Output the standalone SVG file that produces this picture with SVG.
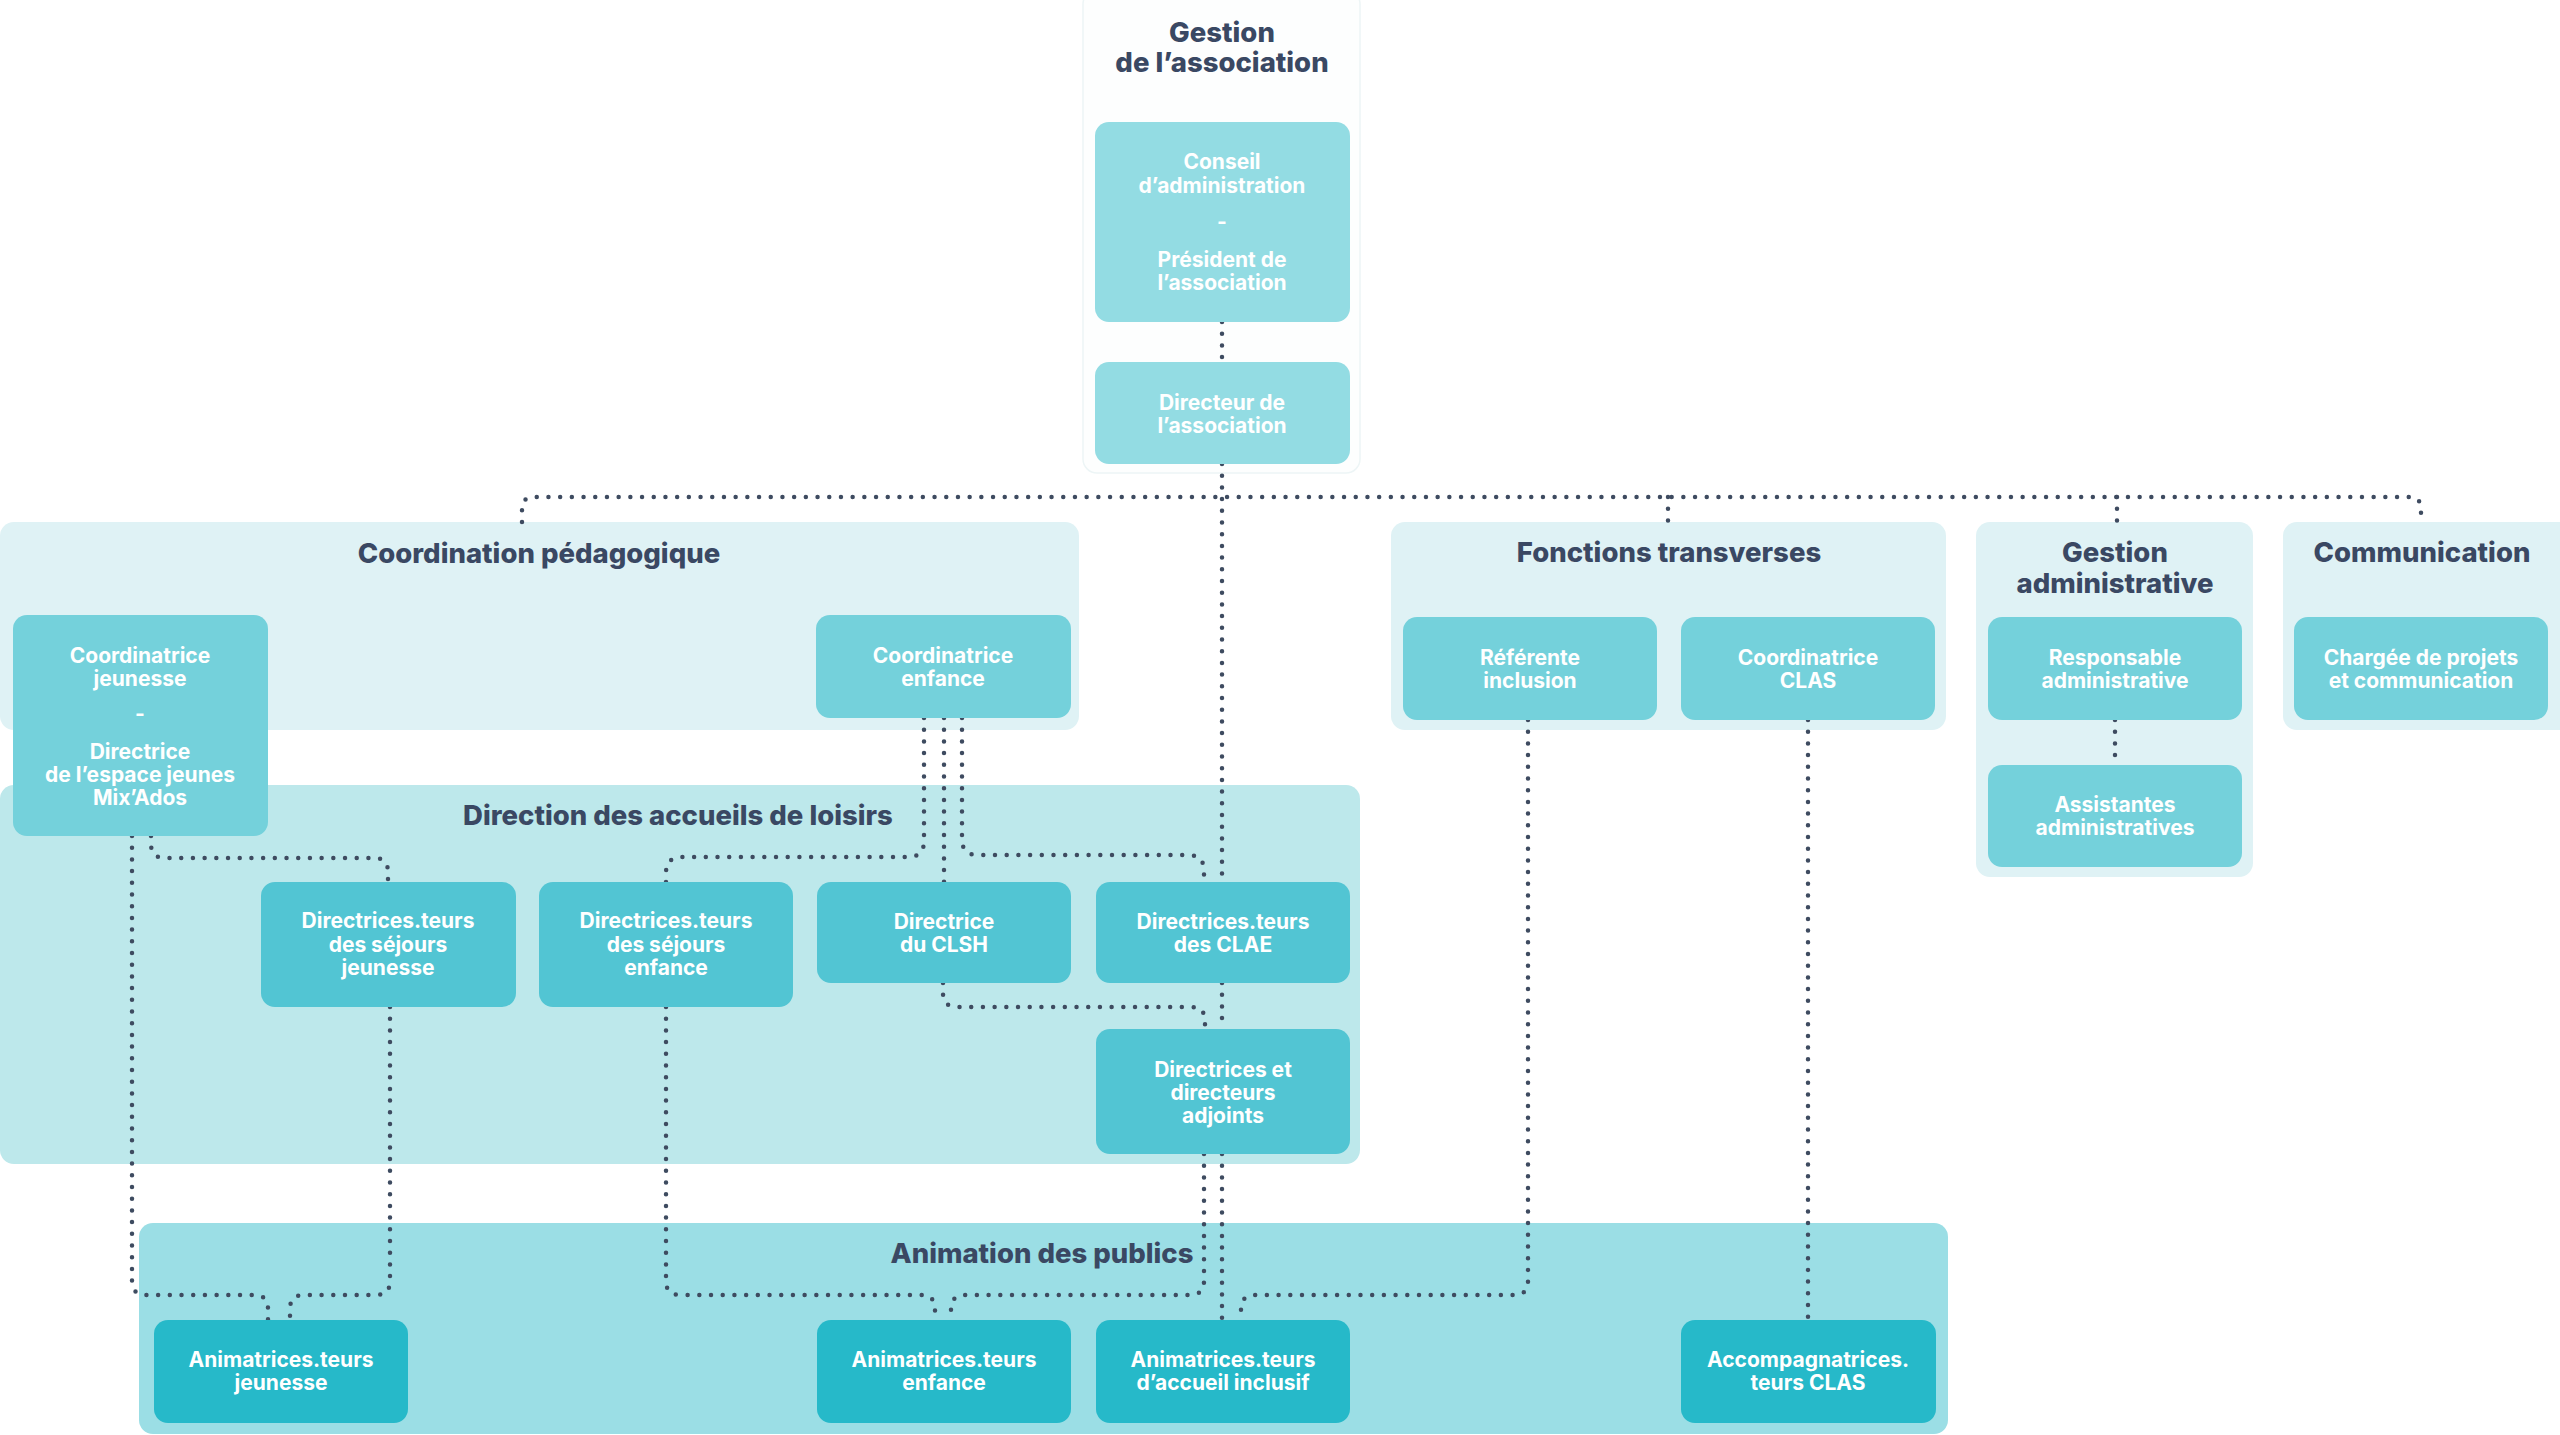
<svg xmlns="http://www.w3.org/2000/svg" width="2560" height="1435" viewBox="0 0 2560 1435">
<style>
.title{font-family:Inter,"Liberation Sans",sans-serif;font-weight:800;font-size:27.5px;fill:#3a4863;text-anchor:middle}
.lbl{font-family:Inter,"Liberation Sans",sans-serif;font-weight:700;font-size:21px;fill:#ffffff;text-anchor:middle}
.sec-light{fill:#dff2f5}
.sec-mid{fill:#bde8eb}
.sec-dark{fill:#9bdee5}
.b1{fill:#93dce3}
.b2{fill:#74d1db}
.b3{fill:#52c5d3}
.b4{fill:#26b9c9}
.conn{fill:none;stroke:#3e4b60;stroke-width:4.5;stroke-linecap:round;stroke-dasharray:0 11.7}
</style>
<rect width="2560" height="1435" fill="#ffffff"/>

<g id="sections">
  <rect id="sec-gestion-asso" x="1083" y="-10" width="277" height="483" rx="14" fill="#fdfefe" stroke="#edf5f6" stroke-width="1.5"/>
  <rect id="sec-coordination" class="sec-light" x="0" y="522" width="1079" height="208" rx="14"/>
  <rect id="sec-direction" class="sec-mid" x="0" y="785" width="1360" height="379" rx="14"/>
  <rect id="sec-animation" class="sec-dark" x="139" y="1223" width="1809" height="211" rx="14"/>
  <rect id="sec-fonctions" class="sec-light" x="1391" y="522" width="555" height="208" rx="14"/>
  <rect id="sec-gestion-admin" class="sec-light" x="1976" y="522" width="277" height="355" rx="14"/>
  <rect id="sec-communication" class="sec-light" x="2283" y="522" width="290" height="208" rx="14"/>
  <text class="title" x="1222" y="42">Gestion</text>
  <text class="title" x="1222" y="72">de l’association</text>
  <text class="title" x="539" y="563">Coordination pédagogique</text>
  <text class="title" x="678" y="825">Direction des accueils de loisirs</text>
  <text class="title" x="1042" y="1263">Animation des publics</text>
  <text class="title" x="1669" y="562">Fonctions transverses</text>
  <text class="title" x="2115" y="562">Gestion</text>
  <text class="title" x="2115" y="593">administrative</text>
  <text class="title" x="2422" y="562">Communication</text>
</g>

<g id="connectors">
  <path class="conn" d="M1222,322 V362"/>
  <path class="conn" d="M1222,464 V882"/>
  <path class="conn" d="M522,522 V509 Q522,497 534,497 H2409 Q2421,497 2421,509 V522"/>
  <path class="conn" d="M1668,497 V522"/>
  <path class="conn" d="M2117,497 V522"/>
  <path class="conn" d="M924,718 V841 Q924,857 908,857 H682 Q666,857 666,873 V882"/>
  <path class="conn" d="M944,718 V882"/>
  <path class="conn" d="M962,718 V839 Q962,855 978,855 H1188 Q1204,855 1204,871 V882"/>
  <path class="conn" d="M151,836 V844 Q151,858 165,858 H374 Q388,858 388,872 V882"/>
  <path class="conn" d="M132,836 V1281 Q132,1295 146,1295 H254 Q268,1295 268,1309 V1320"/>
  <path class="conn" d="M390,1007 V1281 Q390,1295 376,1295 H304 Q290,1295 290,1309 V1320"/>
  <path class="conn" d="M666,1007 V1281 Q666,1295 680,1295 H921 Q935,1295 935,1309 V1320"/>
  <path class="conn" d="M1204,1154 V1281 Q1204,1295 1190,1295 H965 Q951,1295 951,1309 V1320"/>
  <path class="conn" d="M1222,983 V1029"/>
  <path class="conn" d="M1222,1154 V1320"/>
  <path class="conn" d="M943,983 V993 Q943,1007 957,1007 H1191 Q1205,1007 1205,1021 V1029"/>
  <path class="conn" d="M1528,720 V1281 Q1528,1295 1514,1295 H1255 Q1241,1295 1241,1309 V1320"/>
  <path class="conn" d="M1808,720 V1320"/>
  <path class="conn" d="M2115,720 V765"/>
</g>

<g id="n-conseil">
  <rect class="b1" x="1095" y="122" width="255" height="200" rx="14"/>
  <text class="lbl" x="1222" y="169">Conseil</text>
  <text class="lbl" x="1222" y="193">d’administration</text>
  <text class="lbl" x="1222" y="229">-</text>
  <text class="lbl" x="1222" y="267">Président de</text>
  <text class="lbl" x="1222" y="290">l’association</text>
</g>
<g id="n-directeur">
  <rect class="b1" x="1095" y="362" width="255" height="102" rx="14"/>
  <text class="lbl" x="1222" y="410">Directeur de</text>
  <text class="lbl" x="1222" y="433">l’association</text>
</g>

<g id="n-coord-jeunesse">
  <rect class="b2" x="13" y="615" width="255" height="221" rx="14"/>
  <text class="lbl" x="140" y="663">Coordinatrice</text>
  <text class="lbl" x="140" y="686">jeunesse</text>
  <text class="lbl" x="140" y="721">-</text>
  <text class="lbl" x="140" y="759">Directrice</text>
  <text class="lbl" x="140" y="782">de l’espace jeunes</text>
  <text class="lbl" x="140" y="805">Mix’Ados</text>
</g>
<g id="n-coord-enfance">
  <rect class="b2" x="816" y="615" width="255" height="103" rx="14"/>
  <text class="lbl" x="943" y="663">Coordinatrice</text>
  <text class="lbl" x="943" y="686">enfance</text>
</g>

<g id="n-sejours-jeunesse">
  <rect class="b3" x="261" y="882" width="255" height="125" rx="14"/>
  <text class="lbl" x="388" y="928">Directrices.teurs</text>
  <text class="lbl" x="388" y="952">des séjours</text>
  <text class="lbl" x="388" y="975">jeunesse</text>
</g>
<g id="n-sejours-enfance">
  <rect class="b3" x="539" y="882" width="254" height="125" rx="14"/>
  <text class="lbl" x="666" y="928">Directrices.teurs</text>
  <text class="lbl" x="666" y="952">des séjours</text>
  <text class="lbl" x="666" y="975">enfance</text>
</g>
<g id="n-clsh">
  <rect class="b3" x="817" y="882" width="254" height="101" rx="14"/>
  <text class="lbl" x="944" y="929">Directrice</text>
  <text class="lbl" x="944" y="952">du CLSH</text>
</g>
<g id="n-clae">
  <rect class="b3" x="1096" y="882" width="254" height="101" rx="14"/>
  <text class="lbl" x="1223" y="929">Directrices.teurs</text>
  <text class="lbl" x="1223" y="952">des CLAE</text>
</g>
<g id="n-adjoints">
  <rect class="b3" x="1096" y="1029" width="254" height="125" rx="14"/>
  <text class="lbl" x="1223" y="1077">Directrices et</text>
  <text class="lbl" x="1223" y="1100">directeurs</text>
  <text class="lbl" x="1223" y="1123">adjoints</text>
</g>

<g id="n-anim-jeunesse">
  <rect class="b4" x="154" y="1320" width="254" height="103" rx="14"/>
  <text class="lbl" x="281" y="1367">Animatrices.teurs</text>
  <text class="lbl" x="281" y="1390">jeunesse</text>
</g>
<g id="n-anim-enfance">
  <rect class="b4" x="817" y="1320" width="254" height="103" rx="14"/>
  <text class="lbl" x="944" y="1367">Animatrices.teurs</text>
  <text class="lbl" x="944" y="1390">enfance</text>
</g>
<g id="n-anim-inclusif">
  <rect class="b4" x="1096" y="1320" width="254" height="103" rx="14"/>
  <text class="lbl" x="1223" y="1367">Animatrices.teurs</text>
  <text class="lbl" x="1223" y="1390">d’accueil inclusif</text>
</g>
<g id="n-accomp-clas">
  <rect class="b4" x="1681" y="1320" width="255" height="103" rx="14"/>
  <text class="lbl" x="1808" y="1367">Accompagnatrices.</text>
  <text class="lbl" x="1808" y="1390">teurs CLAS</text>
</g>

<g id="n-referente">
  <rect class="b2" x="1403" y="617" width="254" height="103" rx="14"/>
  <text class="lbl" x="1530" y="665">Référente</text>
  <text class="lbl" x="1530" y="688">inclusion</text>
</g>
<g id="n-coord-clas">
  <rect class="b2" x="1681" y="617" width="254" height="103" rx="14"/>
  <text class="lbl" x="1808" y="665">Coordinatrice</text>
  <text class="lbl" x="1808" y="688">CLAS</text>
</g>
<g id="n-responsable">
  <rect class="b2" x="1988" y="617" width="254" height="103" rx="14"/>
  <text class="lbl" x="2115" y="665">Responsable</text>
  <text class="lbl" x="2115" y="688">administrative</text>
</g>
<g id="n-assistantes">
  <rect class="b2" x="1988" y="765" width="254" height="102" rx="14"/>
  <text class="lbl" x="2115" y="812">Assistantes</text>
  <text class="lbl" x="2115" y="835">administratives</text>
</g>
<g id="n-chargee">
  <rect class="b2" x="2294" y="617" width="254" height="103" rx="14"/>
  <text class="lbl" x="2421" y="665">Chargée de projets</text>
  <text class="lbl" x="2421" y="688">et communication</text>
</g>
</svg>
